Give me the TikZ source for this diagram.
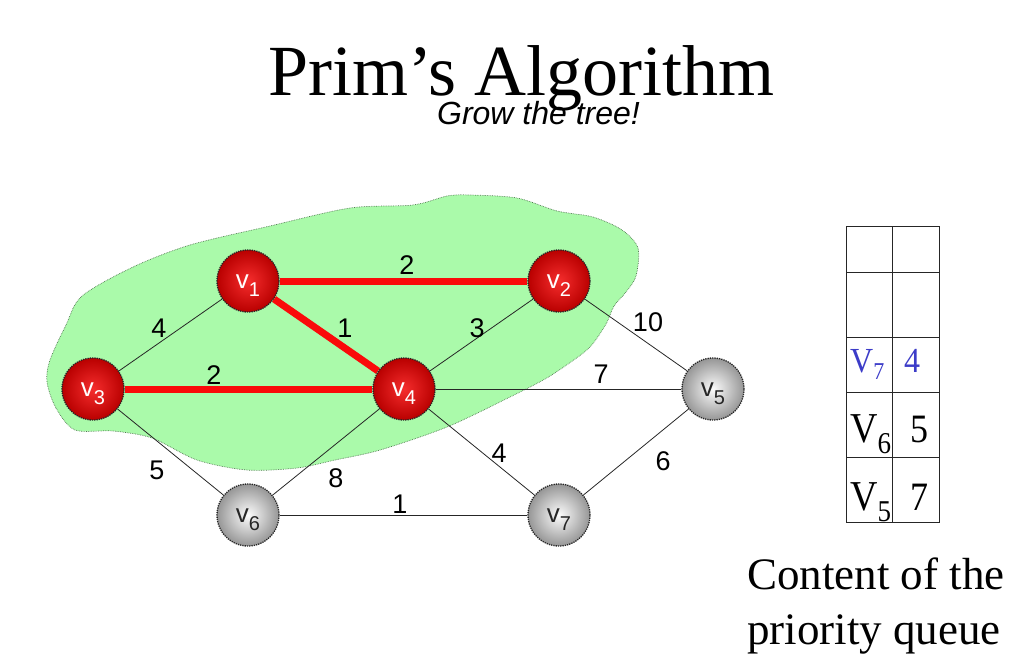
\documentclass[tikz,border=0pt]{standalone}
\usepackage{fontspec}
\setmainfont{Liberation Serif}
\setsansfont{Liberation Sans}
\usetikzlibrary{backgrounds}
\definecolor{blobgreen}{RGB}{170,250,170}
\definecolor{blobedge}{RGB}{80,120,80}
\definecolor{redin}{RGB}{245,45,45}
\definecolor{redout}{RGB}{185,0,0}
\definecolor{grayin}{RGB}{252,252,252}
\definecolor{grayout}{RGB}{150,150,150}
\definecolor{qblue}{RGB}{60,60,200}
\definecolor{treered}{RGB}{250,10,10}
\newcommand\vlab[1]{{\sffamily\fontsize{26}{26}\selectfont v\raisebox{-8pt}{\fontsize{20}{20}\selectfont #1}}}
\newcommand\qlab[1]{\scalebox{1}[1.12]{\fontsize{38}{38}\selectfont V\raisebox{-10pt}{\fontsize{27}{27}\selectfont #1}}}
\begin{document}
\begin{tikzpicture}[x=1pt,y=-1pt,
  vert/.style={circle, minimum size=62pt, inner sep=0pt, draw=black!85, densely dotted, line width=1.3pt},
  rednode/.style={vert, inner color=redin, outer color=redout},
  graynode/.style={vert, inner color=grayin, outer color=grayout},
  wlab/.style={inner sep=0pt, text=white},
  dlab/.style={inner sep=0pt, text=black!85},
  thinedge/.style={draw=black!85, line width=0.8pt},
  treeedge/.style={draw=treered, line width=7pt},
  wt/.style={inner sep=0pt, font=\sffamily\fontsize{27}{27}\selectfont},
  qline/.style={draw=black!85, line width=1pt},
  qtext/.style={inner sep=0pt, anchor=base west},
  qnum/.style={inner sep=0pt, anchor=base, font=\fontsize{36}{36}\selectfont}]
\useasboundingbox (0,0) rectangle (1024,667);

% title
\node[anchor=base, inner sep=0pt, font=\fontsize{72}{72}\selectfont] (title) at (521.5,95) {Prim’s Algorithm};
\node[anchor=base, inner sep=0pt, font=\sffamily\itshape\fontsize{32}{32}\selectfont] (sub) at (538.5,124) {Grow the tree!};

% vertices
\node[rednode] (v1) at (248,281) {};
\node[rednode] (v2) at (559,281) {};
\node[rednode] (v3) at (93,389) {};
\node[rednode] (v4) at (404,389) {};
\node[graynode] (v5) at (713,389) {};
\node[graynode] (v6) at (248,515) {};
\node[graynode] (v7) at (559,515) {};
\node[wlab] (l1) at ([yshift=-5pt]v1.center) {\vlab{1}};
\node[wlab] (l2) at ([yshift=-5pt]v2.center) {\vlab{2}};
\node[wlab] (l3) at ([yshift=-5pt]v3.center) {\vlab{3}};
\node[wlab] (l4) at ([yshift=-5pt]v4.center) {\vlab{4}};
\node[dlab] (l5) at ([yshift=-5pt]v5.center) {\vlab{5}};
\node[dlab] (l6) at ([yshift=-5pt]v6.center) {\vlab{6}};
\node[dlab] (l7) at ([yshift=-5pt]v7.center) {\vlab{7}};

\begin{pgfonlayer}{background}
\path[fill=blobgreen, draw=blobedge, densely dotted, line width=0.7pt]
  plot[smooth cycle, tension=0.5] coordinates {
  (47,382) (56,408) (75,430) (113,431) (152,438) (197,460) (247,470)
  (297,468) (335,460) (380,450) (447,427) (510,397) (545,379) (568,364)
  (590,347) (606,324) (614,306) (626,292) (636,276) (638,248) (622,230)
  (593,217) (557,211) (517,198) (470,195) (447,196) (413,205) (350,208)
  (270,226) (190,245) (133,267) (82,296) (66,325) (50,360)};
\draw[treeedge] (v1) -- (v2);
\draw[treeedge] (v1) -- (v4);
\draw[treeedge] (v3) -- (v4);
\draw[thinedge] (v3) -- (v1);
\draw[thinedge] (v4) -- (v2);
\draw[thinedge] (v2) -- (v5);
\draw[thinedge] (v4) -- (v5);
\draw[thinedge] (v3) -- (v6);
\draw[thinedge] (v4) -- (v6);
\draw[thinedge] (v4) -- (v7);
\draw[thinedge] (v6) -- (v7);
\draw[thinedge] (v7) -- (v5);
\end{pgfonlayer}

% weights
\node[wt] (w12) at (407,265) {2};
\node[wt] (w14) at (345,328) {1};
\node[wt] (w13) at (159,328) {4};
\node[wt] (w24) at (477,328) {3};
\node[wt] (w25) at (648,322) {10};
\node[wt] (w34) at (214,375) {2};
\node[wt] (w45) at (601,374) {7};
\node[wt] (w36) at (157,470) {5};
\node[wt] (w46) at (336,478) {8};
\node[wt] (w47) at (499,453) {4};
\node[wt] (w57) at (663,461) {6};
\node[wt] (w67) at (400,504) {1};

% priority queue
\draw[qline] (846,226) rectangle (939,522);
\draw[qline] (846,272) -- (939,272);
\draw[qline] (846,337) -- (939,337);
\draw[qline] (846,392) -- (939,392);
\draw[qline] (846,457) -- (939,457);
\draw[qline] (892,226) -- (892,522);
\node[qtext, text=qblue] (q7) at (850,372) {\scalebox{1}[1.1]{\fontsize{32}{32}\selectfont V\raisebox{-7pt}{\fontsize{22}{22}\selectfont 7}}};
\node[inner sep=0pt, anchor=base, text=qblue] (k7) at (912,372) {\scalebox{1}[1.1]{\fontsize{32}{32}\selectfont 4}};
\node[qtext] (q6) at (850,442) {\qlab{6}};
\node[qnum] (k6) at (919,442) {\scalebox{1}[1.12]{5}};
\node[qtext] (q5) at (850,510) {\qlab{5}};
\node[qnum] (k5) at (919,510) {\scalebox{1}[1.12]{7}};

\node[anchor=base west, inner sep=0pt, font=\fontsize{45}{45}\selectfont] (cap1) at (747,589) {Content of the};
\node[anchor=base west, inner sep=0pt, font=\fontsize{45}{45}\selectfont] (cap2) at (747,644) {priority queue};
\end{tikzpicture}
\end{document}
